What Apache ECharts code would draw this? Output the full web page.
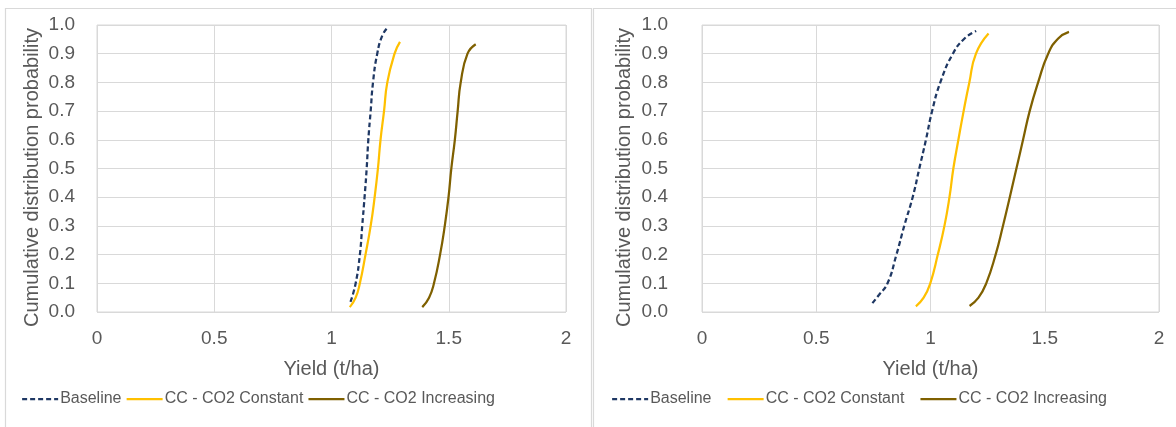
<!DOCTYPE html>
<html>
<head>
<meta charset="utf-8">
<script src="https://cdn.jsdelivr.net/npm/echarts@6/dist/echarts.min.js"></script>
<style>
html,body{margin:0;padding:0;background:#fff;}
#chart{width:1176px;height:427px;}
</style>
</head>
<body>
<div id="chart"></div>
<script>
// ---- Data ----
var seriesNames = ['Baseline', 'CC - CO2 Constant', 'CC - CO2 Increasing'];
var xTickLabels = ['0', '0.5', '1', '1.5', '2'];
var xAxisTitle = 'Yield (t/ha)';
var yAxisTitle = 'Cumulative distribution probability';

// Left panel
var leftBaselineX = [1.081, 1.103, 1.121, 1.131, 1.141, 1.150, 1.157, 1.167, 1.177, 1.195, 1.217, 1.238];
var leftBaselineY = [0.035, 0.10, 0.20, 0.30, 0.40, 0.50, 0.60, 0.70, 0.80, 0.90, 0.964, 0.990];
var leftConstX = [1.078, 1.103, 1.121, 1.145, 1.167, 1.184, 1.198, 1.209, 1.224, 1.238, 1.269, 1.292];
var leftConstY = [0.017, 0.05, 0.10, 0.20, 0.30, 0.40, 0.50, 0.60, 0.70, 0.80, 0.90, 0.941];
var leftIncX = [1.387, 1.416, 1.437, 1.463, 1.483, 1.499, 1.511, 1.526, 1.538, 1.551, 1.580, 1.615];
var leftIncY = [0.017, 0.05, 0.10, 0.20, 0.30, 0.40, 0.50, 0.60, 0.70, 0.80, 0.90, 0.933];

// Right panel
var rightBaselineX = [0.746, 0.775, 0.812, 0.851, 0.885, 0.922, 0.951, 0.980, 1.007, 1.043, 1.098, 1.149, 1.200];
var rightBaselineY = [0.031, 0.06, 0.10, 0.20, 0.30, 0.40, 0.50, 0.60, 0.70, 0.80, 0.90, 0.953, 0.979];
var rightConstX = [0.936, 0.970, 0.999, 1.032, 1.061, 1.083, 1.100, 1.122, 1.145, 1.170, 1.199, 1.254];
var rightConstY = [0.020, 0.05, 0.10, 0.20, 0.30, 0.40, 0.50, 0.60, 0.70, 0.80, 0.90, 0.970];
var rightIncX = [1.171, 1.210, 1.244, 1.285, 1.317, 1.347, 1.376, 1.405, 1.434, 1.471, 1.515, 1.559, 1.606];
var rightIncY = [0.021, 0.05, 0.10, 0.20, 0.30, 0.40, 0.50, 0.60, 0.70, 0.80, 0.90, 0.953, 0.976];

function pairs(xs, ys) { return xs.map(function (x, i) { return [x, ys[i]]; }); }

var colors = ['#1F3864', '#FFC000', '#7F6000'];
var FONT = '"Liberation Sans", Arial, sans-serif';
var TXT = '#595959';
var GRIDC = '#D9D9D9';

function xAx(gi) {
  return {
    gridIndex: gi, type: 'value', min: 0, max: 2, interval: 0.5,
    axisLine: { show: false }, axisTick: { show: false },
    splitLine: { show: true, lineStyle: { color: GRIDC, width: 1 } },
    axisLabel: { color: TXT, fontSize: 19, fontFamily: FONT, margin: 17,
      formatter: function (v) { return xTickLabels[Math.round(v / 0.5)]; } },
    name: xAxisTitle, nameLocation: 'middle', nameGap: 47,
    nameTextStyle: { color: TXT, fontSize: 20, fontFamily: FONT, verticalAlign: 'top' }
  };
}
function yAx(gi, margin, gap) {
  return {
    gridIndex: gi, type: 'value', min: 0, max: 1, interval: 0.1,
    axisLine: { show: false }, axisTick: { show: false },
    splitLine: { show: true, lineStyle: { color: GRIDC, width: 1 } },
    axisLabel: { color: TXT, fontSize: 19, fontFamily: FONT, margin: margin,
      formatter: function (v) { return v.toFixed(1); } },
    name: yAxisTitle, nameLocation: 'middle', nameGap: gap, nameRotate: 90,
    nameTextStyle: { color: TXT, fontSize: 20, fontFamily: FONT, padding: [0, 18, 0, 0] }
  };
}
function ser(name, idx, gi, data) {
  return {
    name: name, type: 'line', xAxisIndex: gi, yAxisIndex: gi,
    data: data, smooth: 0.5, symbol: 'none', showSymbol: false,
    lineStyle: { color: colors[idx], width: 2.25, type: idx === 0 ? [5, 3] : 'solid' },
    itemStyle: { color: colors[idx] },
    emphasis: { disabled: true }
  };
}
function legend(left, gap) {
  return {
    left: left, top: 391, padding: 0, itemWidth: 36, itemHeight: 14, itemGap: gap,
    data: seriesNames,
    itemStyle: { opacity: 0 },
    lineStyle: { width: 2.25 },
    textStyle: { color: TXT, fontSize: 16, fontFamily: FONT, padding: [0, 0, 0, -3] }
  };
}

var chart = echarts.init(document.getElementById('chart'), null, { renderer: 'canvas' });
chart.setOption({
  animation: false,
  backgroundColor: '#fff',
  graphic: [
    { type: 'rect', shape: { x: 5.5, y: 8.5, width: 586, height: 440 }, style: { fill: 'none', stroke: GRIDC, lineWidth: 1.2 }, silent: true },
    { type: 'rect', shape: { x: 593.5, y: 8.5, width: 600, height: 440 }, style: { fill: 'none', stroke: GRIDC, lineWidth: 1.2 }, silent: true }
  ],
  grid: [
    { left: 97, top: 25, width: 469, height: 287, show: true, borderColor: GRIDC, borderWidth: 1, backgroundColor: 'transparent' },
    { left: 702, top: 25, width: 457, height: 287, show: true, borderColor: GRIDC, borderWidth: 1, backgroundColor: 'transparent' }
  ],
  xAxis: [xAx(0), xAx(1)],
  yAxis: [yAx(0, 22, 55), yAx(1, 34, 68)],
  legend: [legend(21, 4), legend(611, 15)],
  series: [
    ser(seriesNames[0], 0, 0, pairs(leftBaselineX, leftBaselineY)),
    ser(seriesNames[1], 1, 0, pairs(leftConstX, leftConstY)),
    ser(seriesNames[2], 2, 0, pairs(leftIncX, leftIncY)),
    ser(seriesNames[0], 0, 1, pairs(rightBaselineX, rightBaselineY)),
    ser(seriesNames[1], 1, 1, pairs(rightConstX, rightConstY)),
    ser(seriesNames[2], 2, 1, pairs(rightIncX, rightIncY))
  ]
});
</script>
</body>
</html>
